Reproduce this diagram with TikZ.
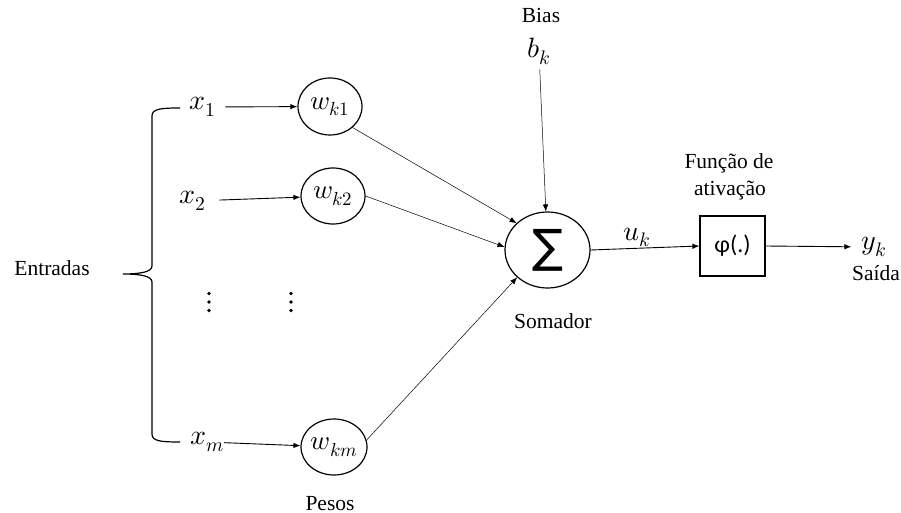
\documentclass[tikz,border=0pt]{standalone}
\usepackage{fontspec}
\usepackage{unicode-math}
\setmainfont{Liberation Serif}
\setmathfont{Latin Modern Math}
\newfontfamily\phifont{Carlito}
\newfontfamily\sigmafont{DejaVu Sans}
\usetikzlibrary{arrows.meta,shapes.geometric}
\begin{document}
\begin{tikzpicture}[x=1pt,y=-1pt,
  txt/.style={font=\fontsize{21.5}{25}\selectfont, inner sep=0pt},
  mth/.style={font=\fontsize{28}{32}\selectfont, inner sep=0pt},
  wnode/.style={ellipse, draw, line width=1.2pt, inner sep=0pt, font=\fontsize{27}{30}\selectfont},
  dotc/.style={circle, fill, inner sep=0pt, minimum size=3.6pt},
  conn/.style={line width=0.5pt, -{Latex[length=7pt,width=5.5pt]}},
  hconn/.style={line width=0.9pt, -{Latex[length=7pt,width=5.5pt]}}]
\useasboundingbox (0,0) rectangle (901,513);

% texts
\node[txt, anchor=base] (bias) at (541,23) {Bias};
\node[mth, anchor=base] (bk) at (539,58) {$b_k$};
\node[txt, anchor=base] (funcao) at (729,168) {Função de};
\node[txt, anchor=base] (ativ) at (730,195) {ativação};
\node[mth, anchor=base] (uk) at (637,240) {$u_k$};
\node[mth] (yk) at (874,247) {$y_k$};
\node[txt, anchor=base] (saida) at (876,280) {Saída};
\node[txt, anchor=base] (somador) at (553,328) {Somador};
\node[txt, anchor=base] (entradas) at (52,275) {Entradas};
\node[txt, anchor=base] (pesos) at (330,510) {Pesos};

% inputs
\node[mth] (x1) at (203,107) {$x_1$};
\node[mth] (x2) at (193,201) {$x_2$};
\node[mth] (xm) at (207,442) {$x_m$};
\foreach \dx/\nm in {209/a,291/b}{
  \node[dotc] (\nm1) at (\dx,293.5) {};
  \node[dotc] (\nm2) at (\dx,302) {};
  \node[dotc] (\nm3) at (\dx,310.5) {};
}

% weights
\node[wnode, minimum width=64pt, minimum height=57pt] (w1) at (330,106.5) {$w_{k1}$};
\node[wnode, minimum width=64pt, minimum height=56pt] (w2) at (333,196) {$w_{k2}$};
\node[wnode, minimum width=66pt, minimum height=56pt] (wm) at (334,447) {$w_{km}$};

% summer
\node[ellipse, draw, line width=1.2pt, minimum width=85pt, minimum height=76pt, inner sep=0pt] (sum) at (547.5,250) {};
\node[inner sep=0pt, font=\sigmafont\fontsize{46}{48}\selectfont] (sig) at (sum.center) {∑};

% activation box
\node[draw, line width=1.2pt, minimum width=65pt, minimum height=60pt, inner sep=0pt,
  font=\phifont\fontsize{24}{28}\selectfont] (box) at (732.5,246) {φ(.)};

% brace
\draw[line width=1.2pt] (180,108) .. controls (160,108) and (152,109) .. (152,116) -- (152,266)
  .. controls (152,272) and (140,274) .. (123,274)
  .. controls (140,274) and (152,276) .. (152,282) -- (152,434)
  .. controls (152,441) and (160,442) .. (180,442);

% connectors
\draw[hconn, shorten <=9pt] (x1) -- (w1);
\draw[hconn, shorten <=13pt] (x2) -- (w2);
\draw[hconn, shorten <=0pt] (xm) -- (wm);
\draw[conn] (w1.-43) -- (sum.139);
\draw[conn] (w2.0) -- (sum.176);
\draw[conn] (wm.12) -- (sum.222);
\draw[conn, shorten <=4pt] (bk) -- (sum);
\draw[hconn] (sum.east) -- (box.west);
\draw[hconn, shorten >=10pt] (box.east) -- (yk);
\end{tikzpicture}
\end{document}
